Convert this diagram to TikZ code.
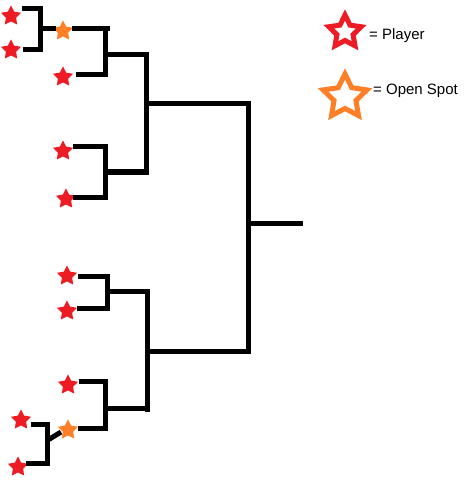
\documentclass[tikz,border=0pt]{standalone}
\usepackage{fontspec}
\setmainfont{Liberation Sans}
\usetikzlibrary{shapes.geometric}
\definecolor{pred}{HTML}{ED1C24}
\definecolor{porange}{HTML}{FF7F27}
\tikzset{
  pstar/.style={star, star points=5, star point ratio=1.95, minimum size=21pt, inner sep=0pt, fill=#1, draw=none},
  lstar/.style={star, star points=5, star point ratio=2.0, minimum size=#1, inner sep=0pt, line width=5pt},
  br/.style={line width=5pt, line cap=rect},
  lbl/.style={font=\fontsize{15pt}{17pt}\selectfont, anchor=west, inner sep=0pt}
}
\begin{document}
\begin{tikzpicture}[x=1pt,y=-1pt]
\useasboundingbox (0,0) rectangle (471,485);
% stars
\node[pstar=pred] (s1) at (11,16) {};
\node[pstar=pred] (s2) at (11,50) {};
\node[pstar=porange] (o1) at (63,31) {};
\node[pstar=pred] (s3) at (63,77) {};
\node[pstar=pred] (s4) at (63,151) {};
\node[pstar=pred] (s5) at (66,199) {};
\node[pstar=pred] (s6) at (67,276) {};
\node[pstar=pred] (s7) at (67,311) {};
\node[pstar=pred] (s8) at (68,385) {};
\node[pstar=porange] (o2) at (68,430) {};
\node[pstar=pred] (s9) at (21,420) {};
\node[pstar=pred] (s10) at (18,467) {};
% group 1 (top-left pair)
\draw[br] (24,8) -| (40,49) -- (25,49);
\draw[br] (40,28) -- (53,28);
% group 2
\draw[br] (74,28) -- (107,28);
\draw[br] (105,28) |- (78,74);
\draw[br] (105,54) -| (146,172);
% group 3
\draw[br] (75,146) -| (105,197) -- (75,197);
\draw[line width=6.5pt] (106,172) -- (146,172);
% semi final top
\draw[br] (146,103) -| (248,351);
\draw[br] (248,223) -- (300,223);
% group 4
\draw[br] (80,276) -| (107,308) -- (79,308);
\draw[br] (107,291) -| (147,409);
\draw[br] (147,351) -- (248,351);
% group 5
\draw[br] (81,381) -| (105,428) -- (80,428);
\draw[br] (105,408) -- (147,408);
% group 6
\draw[br] (33,424) -| (47,463) -- (28,463);
\draw[line width=5pt] (48,440) -- (61,432);
% legend
\node[lstar=34pt, draw=pred] (lp) at (345,32) {};
\node[lstar=46pt, draw=porange] (lo) at (345,97) {};
\node[lbl] (tp) at (369,36) {= Player};
\node[lbl] (to) at (373,91) {= Open Spot};
\end{tikzpicture}
\end{document}
